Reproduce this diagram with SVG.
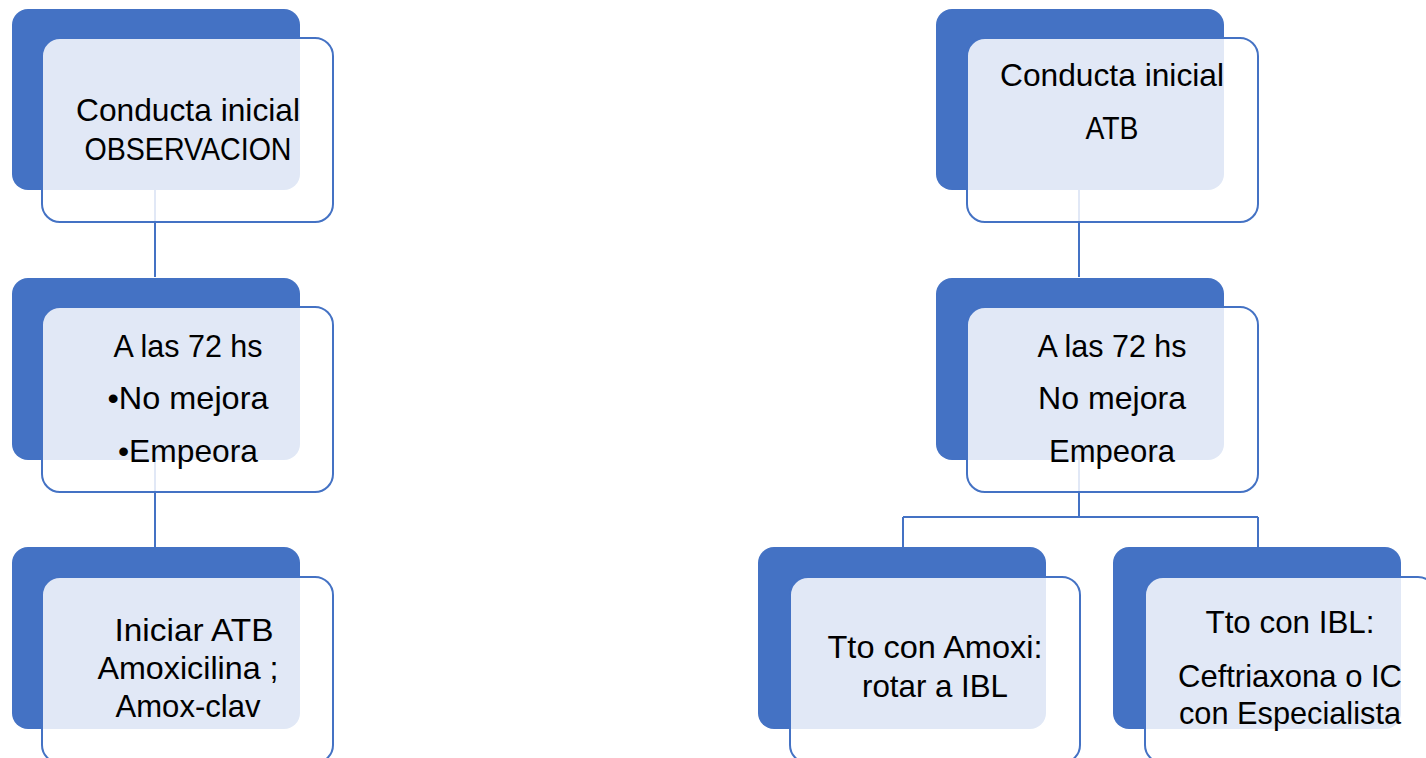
<svg xmlns="http://www.w3.org/2000/svg" width="1426" height="758" viewBox="0 0 1426 758">
<style>
.bk{fill:#4472c4}
.fr{fill:#ffffff;fill-opacity:0.84;stroke:#4472c4;stroke-width:2}
.t{font-family:"Liberation Sans",Arial,sans-serif;font-size:32px;fill:#000;text-anchor:middle}
.c{stroke:#4472c4;stroke-width:2;fill:none}
</style>
<rect width="1426" height="758" fill="#fff"/>
<g id="connectors">
<path class="c" d="M155 190V277M155 460V547"/>
<path class="c" d="M1079 190V277M1079 460V517M903 517H1258M903 517V547M1258 517V547"/>
</g>
<g id="n1">
<rect class="bk" x="12" y="9" width="288" height="181" rx="16"/>
<rect class="fr" x="42" y="38" width="291" height="184" rx="18"/>
<text class="t" x="188" y="121" textLength="224" lengthAdjust="spacingAndGlyphs">Conducta inicial</text>
<text class="t" x="188" y="160" textLength="207" lengthAdjust="spacingAndGlyphs">OBSERVACION</text>
</g>
<g id="n2">
<rect class="bk" x="12" y="278" width="288" height="182" rx="16"/>
<rect class="fr" x="42" y="307" width="291" height="185" rx="18"/>
<text class="t" x="188" y="357" textLength="149" lengthAdjust="spacingAndGlyphs">A las 72 hs</text>
<text class="t" x="188" y="409" textLength="161" lengthAdjust="spacingAndGlyphs">•No mejora</text>
<text class="t" x="188" y="462" textLength="140" lengthAdjust="spacingAndGlyphs">•Empeora</text>
</g>
<g id="n3">
<rect class="bk" x="12" y="547" width="288" height="182" rx="16"/>
<rect class="fr" x="42" y="577" width="291" height="186" rx="18"/>
<text class="t" x="194" y="641" textLength="159" lengthAdjust="spacingAndGlyphs">Iniciar ATB</text>
<text class="t" x="188" y="679" textLength="181" lengthAdjust="spacingAndGlyphs">Amoxicilina ;</text>
<text class="t" x="188" y="717" textLength="145" lengthAdjust="spacingAndGlyphs">Amox-clav</text>
</g>
<g id="n4">
<rect class="bk" x="936" y="9" width="288" height="181" rx="16"/>
<rect class="fr" x="967" y="38" width="291" height="184" rx="18"/>
<text class="t" x="1112" y="86" textLength="224" lengthAdjust="spacingAndGlyphs">Conducta inicial</text>
<text class="t" x="1112" y="139" textLength="53" lengthAdjust="spacingAndGlyphs">ATB</text>
</g>
<g id="n5">
<rect class="bk" x="936" y="278" width="288" height="182" rx="16"/>
<rect class="fr" x="967" y="307" width="291" height="185" rx="18"/>
<text class="t" x="1112" y="357" textLength="149" lengthAdjust="spacingAndGlyphs">A las 72 hs</text>
<text class="t" x="1112" y="409" textLength="148" lengthAdjust="spacingAndGlyphs">No mejora</text>
<text class="t" x="1112" y="462" textLength="126" lengthAdjust="spacingAndGlyphs">Empeora</text>
</g>
<g id="n6">
<rect class="bk" x="758" y="547" width="288" height="182" rx="16"/>
<rect class="fr" x="790" y="577" width="290" height="186" rx="18"/>
<text class="t" x="935" y="658" textLength="215" lengthAdjust="spacingAndGlyphs">Tto con Amoxi:</text>
<text class="t" x="935" y="697" textLength="146" lengthAdjust="spacingAndGlyphs">rotar a IBL</text>
</g>
<g id="n7">
<rect class="bk" x="1113" y="547" width="288" height="182" rx="16"/>
<rect class="fr" x="1145" y="577" width="291" height="186" rx="18"/>
<text class="t" x="1290" y="633" textLength="169" lengthAdjust="spacingAndGlyphs">Tto con IBL:</text>
<text class="t" x="1290" y="687" textLength="224" lengthAdjust="spacingAndGlyphs">Ceftriaxona o IC</text>
<text class="t" x="1290" y="724" textLength="222" lengthAdjust="spacingAndGlyphs">con Especialista</text>
</g>
</svg>
